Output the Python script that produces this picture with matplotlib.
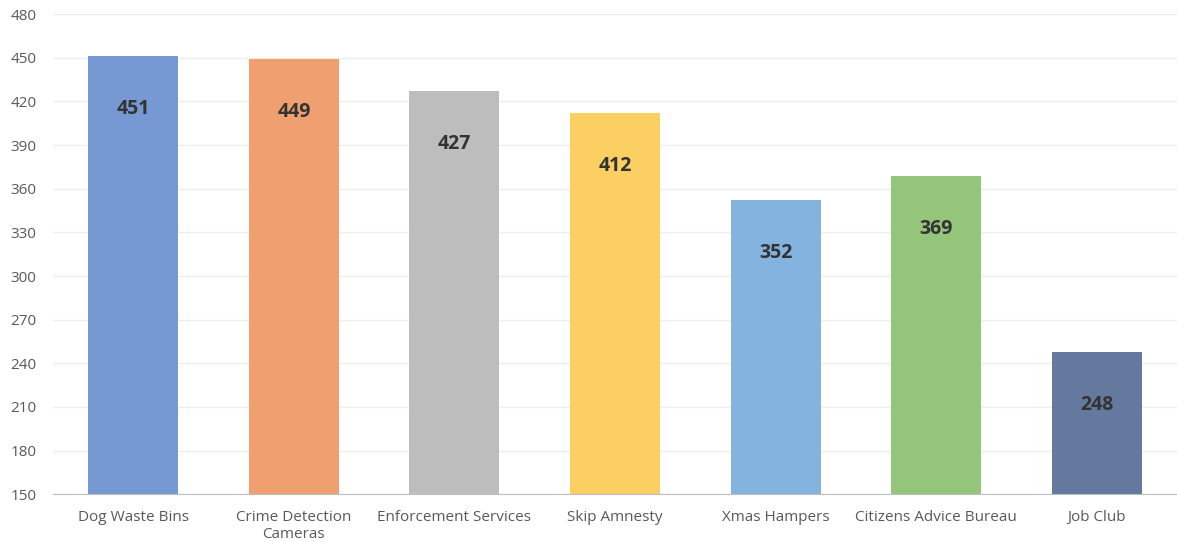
import matplotlib
matplotlib.use("Agg")
import matplotlib.pyplot as plt

# données
categories = ["Dog Waste Bins", "Crime Detection\nCameras", "Enforcement Services",
              "Skip Amnesty", "Xmas Hampers", "Citizens Advice Bureau", "Job Club"]
values = [451, 449, 427, 412, 352, 369, 248]
colors = ["#7699D4", "#F0A070", "#BDBDBD", "#FBCF62", "#85B3E0", "#95C47B", "#65799F"]
yticks = list(range(150, 481, 30))

plt.rcParams['font.family'] = ['Open Sans', 'DejaVu Sans']

fig = plt.figure(figsize=(11.77, 5.42), dpi=100)
ax = fig.add_axes([0.045, 0.088, 0.955, 0.886])

x = list(range(len(categories)))
ax.bar(x, values, width=0.56, color=colors, zorder=2)

for xi, v in zip(x, values):
    ax.annotate(str(v), (xi, v), xytext=(0, -53), textcoords='offset pixels',
                ha='center', va='center', fontsize=14, fontweight='bold', color='#333333')

ax.set_ylim(150, 480)
ax.set_xlim(-0.5, len(categories) - 0.5)
ax.set_yticks(yticks)
ax.set_xticks(x)
ax.set_xticklabels(categories)
ax.grid(axis='y', color='#EEEEEE', linewidth=1, zorder=0)
ax.tick_params(axis='both', length=0, labelsize=11, colors='#595959')
ax.tick_params(axis='x', pad=11)
ax.tick_params(axis='y', pad=12)
for s in ['top', 'right', 'left']:
    ax.spines[s].set_visible(False)
ax.spines['bottom'].set_color('#BFBFBF')

plt.savefig('out.png', dpi=100)
